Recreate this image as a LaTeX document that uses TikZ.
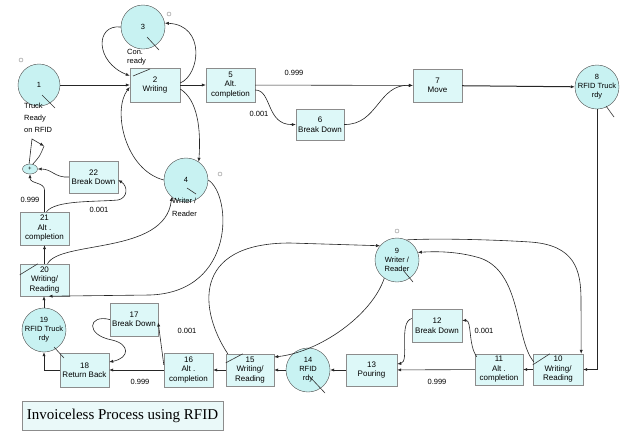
\documentclass[tikz,border=0pt]{standalone}
\usepackage{fontspec}
\setmainfont{Liberation Sans}
\newfontfamily\titlefont{Liberation Serif}
\usetikzlibrary{arrows.meta,shapes.geometric}
\definecolor{boxfill}{HTML}{DDF8F8}
\definecolor{circfill}{HTML}{C8F2F2}
\definecolor{titlefill}{HTML}{EAF9F9}
\definecolor{edgegray}{HTML}{8C8C8C}
\definecolor{linecol}{HTML}{262626}
\begin{document}
\begin{tikzpicture}[x=1pt,y=-1pt,
 act/.style={rectangle,draw=edgegray,fill=boxfill,minimum width=49pt,minimum height=32pt,inner sep=0pt,align=center,font=\fontsize{8}{9.5}\selectfont},
 que/.style={circle,draw=black!70,fill=circfill,minimum size=44pt,inner sep=0pt},
 ctext/.style={align=center,inner sep=0pt,font=\fontsize{7.5}{9}\selectfont},
 conn/.style={draw=linecol,line width=0.6pt,-{Latex[length=4pt,width=3.2pt]}},
 prob/.style={font=\fontsize{7.5}{9}\selectfont,inner sep=0pt},
 lbl/.style={align=left,inner sep=0pt,anchor=north west},
 tick/.style={draw=black!80,line width=0.6pt},
 dot/.style={circle,draw=edgegray,fill=white,minimum size=4pt,inner sep=0pt},
]
\useasboundingbox[fill=white] (0,0) rectangle (623,432);

% ---- queues (circles)
\node[que,minimum size=42pt] (c1) at (39,85) {};
\node[ctext] at (c1) {1};
\node[que] (c3) at (143,27) {};
\node[ctext] at (c3) {3};
\node[que] (c4) at (186,180) {};
\node[ctext] at (c4) {4};
\node[que] (c8) at (597,87) {};
\node[ctext] at (c8) {8\\RFID Truck\\rdy};
\node[que] (c9) at (397,260) {};
\node[ctext] at (c9) {9\\Writer /\\Reader};
\node[que] (c14) at (308,370) {};
\node[ctext] at (c14) {14\\RFID\\rdy};
\node[que] (c19) at (44,330) {};
\node[ctext] at (c19) {19\\RFID Truck\\rdy};
\node[ellipse,draw=black!70,fill=circfill,minimum width=15pt,minimum height=10pt,inner sep=0pt,font=\fontsize{6}{6}\selectfont] (sum) at (30,169) {+};

% ---- activities (boxes)
\node[act,minimum width=50pt,minimum height=34pt] (b2) at (155,85) {2\\Writing};
\node[act,minimum height=34pt] (b5) at (230.5,85) {5\\Alt.\\completion};
\node[act,minimum width=48pt,minimum height=31pt] (b6) at (320,124.5) {6\\Break Down};
\node[act,minimum height=33pt] (b7) at (437.5,85.5) {7\\Move};
\node[act] (b22) at (93.5,177) {22\\Break Down};
\node[act,minimum height=33pt] (b21) at (44.5,228.5) {21\\Alt .\\completion};
\node[act] (b20) at (44.5,280) {20\\Writing/\\Reading};
\node[act,minimum width=48pt,minimum height=33pt] (b17) at (134,319.5) {17\\Break Down};
\node[act,minimum height=34pt] (b18) at (84.5,370) {18\\Return Back};
\node[act,minimum height=34pt] (b16) at (188.5,370) {16\\Alt .\\completion};
\node[act,minimum width=48pt] (b15) at (250,370) {15\\Writing/\\Reading};
\node[act,minimum width=51pt] (b13) at (371.5,370) {13\\Pouring};
\node[act,minimum width=50pt,minimum height=33pt] (b12) at (437,325.5) {12\\Break Down};
\node[act,minimum width=48pt,minimum height=31pt] (b11) at (499,369.5) {11\\Alt .\\completion};
\node[act,minimum width=50pt,minimum height=31pt] (b10) at (558,369.5) {10\\Writing/\\Reading};

% ---- title
\node[draw=edgegray,fill=titlefill,minimum width=201pt,minimum height=29pt,inner sep=0pt,font=\titlefont\fontsize{15}{16}\selectfont] (title) at (122.5,415.5) {Invoiceless Process using RFID};

% ---- labels outside circles
\node[lbl,font=\fontsize{7.5}{12}\selectfont] (l1) at (24,103) {Truck\\Ready\\on RFID};
\node[lbl,font=\fontsize{7.5}{9}\selectfont] (l3) at (127,49) {Con.\\ready};
\node[lbl,font=\fontsize{7.5}{12.5}\selectfont] (l4) at (172,198) {Writer /\\Reader};

% ---- small markers
\node[dot] (o1) at (21,60) {};
\node[dot] (o3) at (169,14) {};
\node[dot] (o4) at (220,174) {};
\node[dot] (o9) at (397,231) {};

% ---- marker strokes
\draw[tick] (42,95) -- (55,108);
\draw[tick] (147,37) -- (159,50);
\draw[tick] (150,69) -- (133,76);
\draw[tick] (187,188) -- (196,194);
\draw[tick] (606,106) -- (614,117);
\draw[tick] (403,270) -- (413,282);
\draw[tick] (310,377) -- (325,393);
\draw[tick] (54,347) -- (64,358);
\draw[tick] ([yshift=-11pt]b20.north west) -- ([xshift=18pt]b20.north west);
\draw[tick] ([yshift=-9pt]b15.north west) -- ([xshift=17pt]b15.north west);
\draw[tick] ([yshift=-11pt]b10.north west) -- ([xshift=17pt]b10.north west);

% ---- connectors, top row
\draw[conn] (c1) -- (b2);
\draw[conn] (b2) -- (b5);
\draw[conn] (b5) -- (b7);
\node[prob] (p1) at (294,73) {0.999};
\draw[conn] ([yshift=-5pt]b5.east) .. controls (272,90) and (266,125) .. (b6.west);
\node[prob] (p2) at (259,114) {0.001};
\draw[conn] (b6.east) .. controls (378,125) and (378,84) .. (b7.west);
\draw[conn,line width=1pt] (b7) -- (c8);
\draw[conn] ([yshift=2pt]b2.east) .. controls (200,75) and (206,25) .. (c3.10);
\draw[conn] (c3.west) .. controls (95,24) and (95,62) .. ([yshift=-8pt]b2.north west);
\draw[conn] ([yshift=-4pt]b2.east) .. controls (198,100) and (201,130) .. (c4.55);
\draw[conn] (c4.west) .. controls (125,170) and (112,110) .. ([yshift=-2pt]b2.west);

% ---- right side and bottom row
\draw[conn] (c8.south) |- (b10.east);
\draw[conn] (b10) -- (b11);
\draw[conn] (b11) -- (b13);
\node[prob] (p3) at (437,382) {0.999};
\draw[conn] ([xshift=2pt,yshift=-3pt]b11.north west) .. controls (468,345) and (472,320) .. ([yshift=5pt]b12.east);
\node[prob] (p4) at (484,331) {0.001};
\draw[conn] ([yshift=7pt]b12.west) .. controls (398,322) and (410,362) .. ([yshift=6pt]b13.east);
\draw[conn] (b13) -- (c14);
\draw[conn] (c14) -- (b15);
\draw[conn] (c9.235) .. controls (372,315) and (320,352) .. ([yshift=13pt]b15.east);
\draw[conn] ([xshift=2pt]b15.north west) .. controls (200,312) and (190,243) .. (290,243) -- (c9.140);
\draw[conn] (c9.65) .. controls (440,238) and (500,240) .. (530,242) .. controls (575,245) and (581,270) .. (581,300) -- ([xshift=-2pt]b10.north east);
\draw[conn] ([xshift=1pt,yshift=-8pt]b10.north west) .. controls (515,340) and (522,272) .. (480,258) .. controls (460,252) and (440,251) .. (c9.20);
\draw[conn] (b15) -- (b16);
\draw[conn] (b16) -- (b18);
\node[prob] (p5) at (140,382) {0.999};
\draw[conn] ([yshift=-12pt]b16.north west) -- ([yshift=-3pt]b17.east);
\node[prob] (p6) at (187,331) {0.001};
\draw[conn] (b17.west) .. controls (88,314) and (85,335) .. (112,340) .. controls (130,344) and (130,358) .. ([yshift=8pt]b18.east);
\draw[conn] (b18.west) -| (c19.south);
\draw[conn] (c19.north) -- (c19.north |- b20.south);

% ---- left column
\draw[conn] (b20.north) -- (b21.south);
\draw[conn] ([xshift=3pt]b20.north) .. controls (60,240) and (165,255) .. (c4.230);
\draw[conn] (c4.east) .. controls (232,195) and (236,292) .. (150,295) -- ([xshift=4pt]b20.south);
\draw[conn] (b21.north) -- (44.5,190) .. controls (44.5,182) and (30,184) .. (sum.south);
\node[prob] (p7) at (30,200) {0.999};
\draw[conn] ([xshift=2pt]b21.north) .. controls (55,200) and (95,202) .. (118,200) .. controls (128,198) and (128,186) .. ([yshift=-3pt]b22.east);
\node[prob] (p8) at (99,210) {0.001};
\draw[conn] (b22.west) .. controls (55,178) and (52,169) .. (sum.east);
\coordinate (trip) at (32,139);
\coordinate (tri) at (44,146);
\draw[conn] (sum.100) -- (trip) -- (tri);
\draw[tick] (sum.60) .. controls (40,156) .. (tri);
\end{tikzpicture}
\end{document}
